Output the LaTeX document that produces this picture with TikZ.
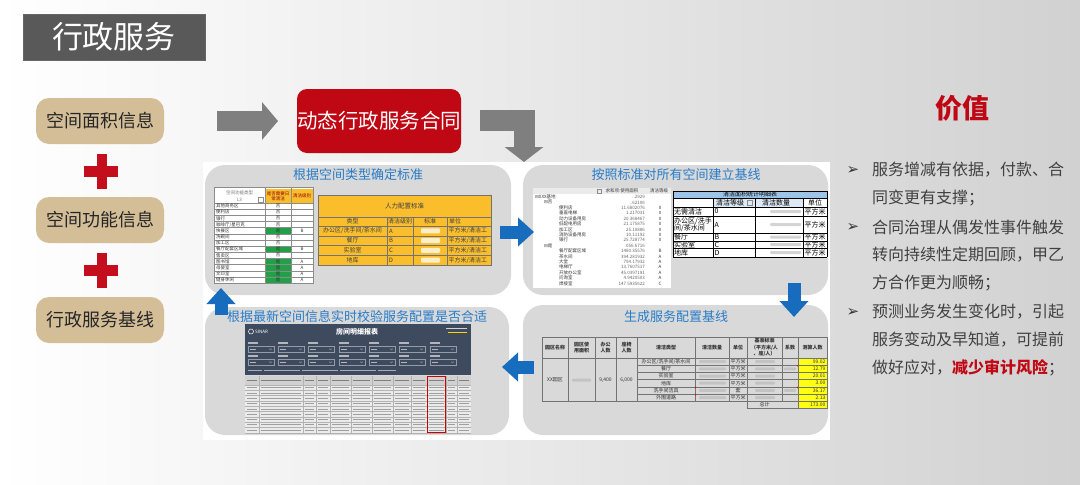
\documentclass[tikz,border=0pt]{standalone}
\usepackage{fontspec}
\setmainfont{Noto Sans CJK SC}
\newfontfamily\symfont{DejaVu Sans}
\usetikzlibrary{arrows.meta}

\definecolor{slidegray}{RGB}{89,89,89}
\definecolor{boxtan}{RGB}{212,190,152}
\definecolor{plusred}{RGB}{196,14,30}
\definecolor{boxred}{RGB}{192,8,20}
\definecolor{arrowgray}{RGB}{127,127,127}
\definecolor{panelgray}{RGB}{217,217,217}
\definecolor{titleblue}{RGB}{40,124,200}
\definecolor{arrowblue}{RGB}{24,108,190}
\definecolor{cellorange}{RGB}{250,190,45}
\definecolor{cellgreen}{RGB}{34,160,72}
\definecolor{headblue}{RGB}{157,195,230}
\definecolor{dashdark}{RGB}{62,74,94}
\definecolor{cellyellow}{RGB}{255,255,20}
\definecolor{textgray}{RGB}{64,64,64}

\begin{document}
\begin{tikzpicture}[x=1pt, y=-1pt,
		titlebox/.style={fill=slidegray, draw=black!60, line width=1pt, minimum width=182pt, minimum height=46pt, inner sep=0pt, text=white, font=\fontsize{31}{31}\selectfont},
		tanbox/.style={fill=boxtan, rounded corners=13pt, minimum width=128pt, minimum height=46pt, inner sep=0pt, text=black!85, font=\fontsize{18}{18}\selectfont},
		panel/.style={fill=panelgray, rounded corners=20pt, inner sep=0pt},
		ptitle/.style={text=titleblue, inner sep=0pt, font=\fontsize{13}{13}\selectfont},
		grayarr/.style={draw=arrowgray, line width=20pt, line join=miter, -{Triangle[length=16pt,width=37pt]}},
		bluearr/.style={draw=arrowblue, line width=13pt, -{Triangle[length=16pt,width=28pt]}},
		celltext/.style={inner sep=0pt, text=black!80, font=\fontsize{4.5}{5}\selectfont},
		otext/.style={inner sep=0pt, text=black!75, font=\fontsize{6}{6}\selectfont},
		btext/.style={inner sep=0pt, text=black, font=\fontsize{7}{7.5}\selectfont},
		ttext/.style={inner sep=0pt, text=black!80, font=\fontsize{5}{5.6}\selectfont},
		grid/.style={draw=black!45, line width=.3pt},
		ogrid/.style={draw=black!55, line width=.4pt},
		smudge/.style={fill=white, opacity=.75, rounded corners=1pt},
		graysmudge/.style={fill=black!30, opacity=.55, rounded corners=1pt},
		vtext/.style={anchor=west, inner sep=0pt, text=textgray, font=\fontsize{16}{16}\selectfont}]
	\useasboundingbox (0,0) rectangle (1080,485);
	\shade[left color=white, middle color=white!96!black, right color=black!18] (0,0) rectangle (1080,485);
	
	\node[titlebox] (title) at (114,37) {行政服务};
	
	% inputs
	\node[tanbox] (area) at (100,121) {空间面积信息};
	\node[tanbox] (func) at (100,220) {空间功能信息};
	\node[tanbox] (base) at (100,320) {行政服务基线};
	\foreach \y in {171,270} {
		\fill[plusred] (84,\y-5.5) rectangle (118,\y+5.5);
		\fill[plusred] (96.5,\y-17.5) rectangle (106.5,\y+17.5);
	}
	
	\node[fill=boxred, rounded corners=10pt, minimum width=164pt, minimum height=64pt, inner sep=0pt, text=white, font=\fontsize{20.5}{20.5}\selectfont] (contract) at (379,121) {动态行政服务合同};
	
	\coordinate (A1) at (217,121);
	\coordinate (A2) at (278,121);
	\coordinate (B1) at (480,120);
	\coordinate (B2) at (524,162);
	\draw[grayarr] (A1) -- (A2);
	\draw[grayarr, line width=21pt, -{Triangle[length=15pt,width=38pt]}] (B1) -| (B2);
	
	% cycle of panels
	\fill[white] (203,162) rectangle (830,440);
	\node[panel, minimum width=306pt, minimum height=130pt] (p1) at (358,230) {};
	\node[panel, minimum width=305pt, minimum height=130pt] (p2) at (675.5,230) {};
	\node[panel, minimum width=304pt, minimum height=128pt] (p3) at (357,371) {};
	\node[panel, minimum width=305pt, minimum height=130pt] (p4) at (675.5,370) {};
	\node[ptitle] (t1) at (358,175) {根据空间类型确定标准};
	\node[ptitle] (t2) at (676,175) {按照标准对所有空间建立基线};
	\node[ptitle] (t3) at (357,317) {根据最新空间信息实时校验服务配置是否合适};
	\node[ptitle] (t4) at (676,317) {生成服务配置基线};
	
	% panel 1: function sheet
	\fill[white] (214,187) rectangle (313,283);
	\fill[cellorange] (265,189) rectangle (313,203);
	\node[celltext, text=black!55] at (239.5,193) {空间功能类型};
	\node[celltext, text=black!55] at (239.5,199.5) {L3};
	\draw[grid] (258,197) rectangle (263,202);
	\node[celltext, align=center, text=red!55!black] at (278,196) {是否需要日\\常清洁};
	\node[celltext, text=red!55!black] at (302,196) {清洁级别};
	\foreach \i/\nm/\yn/\lv in {0/其他商务区/0/{}, 1/便利店/0/{}, 2/银行/0/{}, 3/{咖啡厅/星巴克}/0/{}, 4/快餐区/1/B, 5/洗碗间/0/{}, 6/加工区/0/{}, 7/餐厅配套区域/1/B, 8/售卖区/0/{}, 9/图书馆/1/A, 10/母婴室/1/A, 11/文印室/1/A, 12/健身休闲/1/A} {
		\pgfmathsetmacro\yt{203+6.15*\i}
		\ifnum\yn=1 \fill[cellgreen] (265,\yt) rectangle (291,\yt+6.15); \fi
		\draw[grid] (214,\yt) -- (313,\yt);
		\node[celltext, anchor=west] at (216,\yt+3.1) {\nm};
		\node[celltext] at (278,\yt+3.1) {\ifnum\yn=1 是\else 否\fi};
		\node[celltext] at (302,\yt+3.1) {\lv};
	}
	\foreach \x in {265,291} \draw[grid] (\x,187) -- (\x,283);
	\draw[grid] (214,187) rectangle (313,283);
	
	% panel 1: staffing standard
	\fill[cellorange] (318,195) rectangle (491,265);
	\draw[ogrid] (318,195) rectangle (491,265);
	\node[otext, font=\fontsize{6.5}{6.5}\selectfont] at (404.5,206) {人力配置标准};
	\foreach \y in {217,226,235.75,245.5,255.25} \draw[ogrid] (318,\y) -- (491,\y);
	\foreach \x in {387,413,447} \draw[ogrid] (\x,217) -- (\x,265);
	\node[otext] at (352.5,221.5) {类型};
	\node[otext] at (400,221.5) {清洁级别};
	\node[otext] at (430,221.5) {标准};
	\node[otext, anchor=west] at (449,221.5) {单位};
	\foreach \i/\tp/\lv in {0/{办公区/洗手间/茶水间}/A, 1/餐厅/B, 2/实验室/C, 3/地库/D} {
		\pgfmathsetmacro\yc{230.9+9.75*\i}
		\node[otext] at (352.5,\yc) {\tp};
		\node[otext] at (391,\yc) {\lv};
		\fill[smudge] (421,\yc-2.5) rectangle (440,\yc+2.5);
		\node[otext, anchor=west] at (448.5,\yc) {平方米/清洁工};
	}
	
	% panel 2: pivot of areas
	\fill[white] (533,188) rectangle (671,288);
	\fill[black!8] (533,188) rectangle (671,194);
	\draw[grid] (597,189.5) rectangle (601,193);
	\node[celltext] at (622,191) {求和项:使用面积};
	\node[celltext] at (659,191) {清洁等级};
	\foreach \i/\lvl/\nm/\amt/\grd in {0/0/XXX基地/{..2929}/{}, 1/1/否/{..62106}/{}, 2/2/便利店/{11.6802076}/0, 3/2/垂直电梯/{1.217031}/0, 4/2/动力设备用房/{20.368467}/0, 5/2/低配电用房/{21.175875}/0, 6/2/加工区/{25.10886}/0, 7/2/消防设备用房/{10.11192}/0, 8/2/银行/{25.728774}/0, 9/1/是/{.056.6716}/{}, 10/2/餐厅配套区域/{1480.35576}/B, 11/2/茶水间/{394.281932}/A, 12/2/大堂/{794.17932}/A, 13/2/电梯厅/{13.7607517}/A, 14/2/开放办公室/{45.0397191}/A, 15/2/问询室/{4.9420503}/A, 16/2/焊接室/{147.5935622}/C} {
		\pgfmathsetmacro\yc{197+5.4*\i}
		\pgfmathsetmacro\xn{535+9*\lvl}
		\ifnum\lvl<2
			\node[celltext, anchor=west] at (\xn,\yc) {{\symfont ⊟}\nm};
		\else
			\node[celltext, anchor=west] at (\xn+6,\yc) {\nm};
		\fi
		\node[celltext, anchor=east, text=black!60] at (645,\yc) {\amt};
		\node[celltext] at (660,\yc) {\grd};
	}
	
	% panel 2: cleaning area summary
	\fill[headblue] (673,191) rectangle (827,198);
	\node[btext, font=\fontsize{6}{6}\selectfont] at (750,194.5) {清洁面积统计明细表};
	\fill[white] (673,198) rectangle (827,257);
	\fill[headblue!35] (713,198) rectangle (803,207);
	\foreach \y in {198,207,216,233,241,248,257} \draw[black, line width=.4pt] (673,\y) -- (827,\y);
	\foreach \x in {673,713,755,803,827} \draw[black, line width=.4pt] (\x,198) -- (\x,257);
	\draw[black, line width=.4pt] (673,191) rectangle (827,198);
	\node[btext] at (730,202.5) {清洁等级};
	\draw[grid] (747,200) rectangle (752,205);
	\node[btext] at (776,202.5) {清洁数量};
	\node[btext] at (815,202.5) {单位};
	\foreach \yc/\tp/\lv in {211.5/无需清洁/0, 224.5/{办公区/洗手\\间/茶水间}/A, 237/餐厅/B, 244.5/实验室/C, 252.5/地库/D} {
		\node[btext, anchor=west, align=left] at (674,\yc) {\tp};
		\node[btext, anchor=west] at (714.5,\yc) {\lv};
		\fill[graysmudge] (770,\yc-1.5) rectangle (801,\yc+1.5);
		\node[btext] at (815,\yc) {平方米};
	}
	
	% panel 3: live report
	\fill[dashdark] (245,324) rectangle (471,433);
	\node[inner sep=0pt, text=white, font=\fontsize{7}{7}\selectfont\bfseries] (report) at (357,332) {房间明细报表};
	\draw[white, line width=.5pt] (251,331.5) circle (2.5);
	\node[celltext, anchor=west, text=white] at (255,331.5) {SINAR};
	\fill[white!75!dashdark] (446,328) rectangle (467,329.3);
	\fill[yellow!75!orange] (448,332) rectangle (467,333.2);
	\foreach \x in {248,278,308,339,369,399,430} {
		\foreach \y in {343,356} {
			\fill[white!60!dashdark] (\x,\y-.8) rectangle (\x+10,\y+.6);
			\draw[white!45!dashdark, line width=.4pt] (\x,\y+3.5) rectangle (\x+26,\y+9);
			\fill[white!60!dashdark] (\x+2,\y+5.6) rectangle (\x+8,\y+6.8);
			\draw[white!70!dashdark, line width=.3pt] (\x+21,\y+5.5) -- (\x+22.5,\y+7) -- (\x+24,\y+5.5);
		}
	}
	\foreach \xa/\xb in {248/262, 264/300, 302/338, 340/376, 378/396} \fill[white!55!dashdark] (\xa,369.6) rectangle (\xb,370.8);
	\fill[white!85!black] (245,374.5) rectangle (471,376);
	\fill[black!8] (245,376) rectangle (471,433);
	\fill[black!18] (245,376) rectangle (471,385);
	\foreach \x in {259,303,316,330,351,372,393,411,427,446,457} \draw[black!30, line width=.3pt] (\x,376) -- (\x,433);
	\foreach \r in {0,...,9} \draw[black!30, line width=.3pt] (245,385+5.3*\r) -- (471,385+5.3*\r);
	\foreach \xa/\xb in {245/259, 259/303, 303/316, 316/330, 330/351, 351/372, 372/393, 393/411, 411/427, 427/446, 446/457, 457/471} {
		\fill[black!50] (\xa+2,380) rectangle (\xb-2,381.2);
		\foreach \r in {0,...,8} \fill[black!38] (\xa+2,387.3+5.3*\r) rectangle (\xb-2,388.3+5.3*\r);
	}
	\draw[red!80!black, line width=.6pt] (427,376) rectangle (445,432);
	
	% panel 4: staffing baseline
	\fill[cellyellow] (798,358) rectangle (827,408);
	\foreach \x in {542,568,595,616,637,695,729,747,782,798,827} \draw[ogrid] (\x,337) -- (\x,401);
	\draw[ogrid] (542,337) -- (827,337);
	\draw[ogrid] (542,358) -- (827,358);
	\draw[ogrid] (542,401) -- (827,401);
	\foreach \r in {1,...,5} \draw[ogrid] (637,358+7.2*\r) -- (827,358+7.2*\r);
	\draw[ogrid] (747,401) -- (747,408) -- (827,408) -- (827,401);
	\draw[ogrid] (798,401) -- (798,408);
	\foreach \xc/\hd in {555/园区名称, 581.5/{园区使\\用面积}, 605.5/{办公\\人数}, 626.5/{座椅\\人数}, 666/清洁类型, 712/清洁数量, 738/单位, 764.5/{基准标准\\（平方米/人\\、座/人）}, 790/系数, 812.5/测算人数}
		\node[ttext, align=center, font=\fontsize{5}{6.2}\selectfont\bfseries] at (\xc,347.5) {\hd};
	\node[ttext] at (555,380) {XX园区};
	\fill[graysmudge] (572,378.5) rectangle (591,381.5);
	\node[ttext] at (605.5,380) {9,400};
	\node[ttext] at (626.5,380) {6,000};
	\foreach \i/\tp/\un/\num in {0/{办公区/洗手间/茶水间}/平方米/99.02, 1/餐厅/平方米/12.79, 2/实验室/平方米/20.01, 3/地库/平方米/3.00, 4/洗手间洁具/套/36.17, 5/外围道路/平方米/2.13} {
		\pgfmathsetmacro\yc{361.6+7.2*\i}
		\node[ttext] at (666,\yc) {\tp};
		\fill[graysmudge] (699,\yc-1.5) rectangle (726,\yc+1.5);
		\node[ttext] at (738,\yc) {\un};
		\fill[graysmudge] (755,\yc-1.5) rectangle (775,\yc+1.5);
		\node[ttext, anchor=east] at (825.5,\yc) {\num};
	}
	\foreach \yc in {368.8,390.4} \fill[graysmudge] (784,\yc-1.5) rectangle (796,\yc+1.5);
	\node[ttext] at (764.5,404.5) {总计};
	\node[ttext, anchor=east] at (825.5,404.5) {173.00};
	\foreach \xc/\yc in {695.5/387.5, 695.5/394.7, 797.5/365.7, 797.5/387.5} \fill[red] (\xc,\yc) circle (.8);
	
	\coordinate (R1) at (500,232);
	\coordinate (R2) at (534,232);
	\coordinate (D1) at (794,283);
	\coordinate (D2) at (794,317);
	\coordinate (L1) at (534,367);
	\coordinate (L2) at (502,367);
	\coordinate (U1) at (221,315);
	\coordinate (U2) at (221,288);
	\foreach \s/\t in {R1/R2, D1/D2, L1/L2, U1/U2} {
		\draw[bluearr] (\s) -- (\t);
	}
	
	% value
	\node[inner sep=0pt, text=boxred, font=\fontsize{27}{27}\selectfont\bfseries] (value) at (962,108) {价值};
	\foreach \y in {170,227,312} {
		\node[inner sep=0pt, text=black!80, font=\symfont\fontsize{15}{15}\selectfont] at (853,\y) {➢};
	}
	\foreach \y/\txt in {170/{服务增减有依据，付款、合}, 198/{同变更有支撑；}, 227/{合同治理从偶发性事件触发}, 255/{转向持续性定期回顾，甲乙}, 283/{方合作更为顺畅；}, 312/{预测业务发生变化时，引起}, 340/{服务变动及早知道，可提前}} {
		\node[vtext] at (872,\y) {\txt};
	}
	\node[vtext] at (872,368) {做好应对，\textcolor{boxred}{\bfseries 减少审计风险}；};
\end{tikzpicture}
\end{document}
